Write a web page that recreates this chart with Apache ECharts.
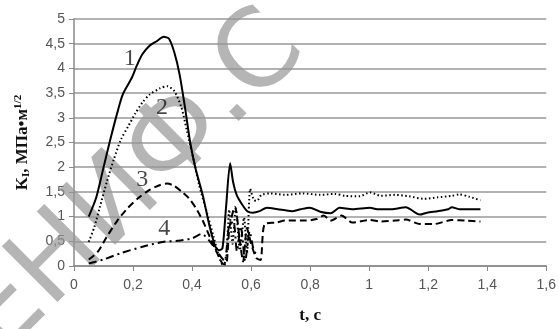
<!DOCTYPE html>
<html>
<head>
<meta charset="utf-8">
<script src="https://cdn.jsdelivr.net/npm/echarts@6/dist/echarts.min.js"></script>
<style>
  html, body { margin: 0; padding: 0; background: #fff; }
  #chart { width: 559px; height: 329px; }
</style>
</head>
<body>
<div id="chart"></div>
<script>
// curve 1 (solid)
const curve1 = [
  [0.05, 1.0], [0.075, 1.38], [0.099, 1.97], [0.123, 2.56], [0.147, 3.11], [0.165, 3.47],
  [0.195, 3.8], [0.213, 4.06], [0.232, 4.29], [0.256, 4.46], [0.28, 4.55], [0.304, 4.64],
  [0.322, 4.6], [0.34, 4.32], [0.358, 3.87], [0.376, 3.21], [0.394, 2.49], [0.412, 1.97],
  [0.436, 1.44], [0.46, 0.79], [0.479, 0.39], [0.491, 0.32], [0.503, 0.36], [0.515, 1.18],
  [0.529, 2.08], [0.539, 1.7], [0.551, 1.44], [0.569, 1.25], [0.587, 1.11], [0.605, 1.08],
  [0.629, 1.11], [0.653, 1.18], [0.69, 1.15], [0.738, 1.11], [0.768, 1.15], [0.798, 1.18],
  [0.834, 1.1], [0.87, 1.07], [0.9, 1.18], [0.943, 1.15], [1.003, 1.18], [1.027, 1.15],
  [1.075, 1.15], [1.124, 1.19], [1.172, 1.04], [1.196, 1.08], [1.232, 1.11], [1.268, 1.15],
  [1.28, 1.19], [1.305, 1.15], [1.377, 1.15]
]
// curve 2 (dotted)
const curve2 = [
  [0.05, 0.49], [0.069, 0.79], [0.087, 1.18], [0.111, 1.7], [0.135, 2.16], [0.159, 2.56],
  [0.183, 2.82], [0.207, 3.08], [0.232, 3.31], [0.256, 3.47], [0.292, 3.6], [0.316, 3.64],
  [0.34, 3.54], [0.364, 3.21], [0.382, 2.75], [0.4, 2.29], [0.424, 1.64], [0.449, 1.11],
  [0.473, 0.59], [0.491, 0.2], [0.503, 0.03], [0.515, 0.1], [0.526, 1.14], [0.537, 0.45],
  [0.548, 1.17], [0.562, 0.32], [0.576, 0.98], [0.586, 0.26], [0.597, 1.56], [0.61, 1.33],
  [0.62, 1.32], [0.635, 1.44], [0.666, 1.47], [0.714, 1.44], [0.774, 1.47], [0.834, 1.44],
  [0.883, 1.46], [0.919, 1.42], [0.967, 1.41], [1.003, 1.49], [1.039, 1.42], [1.088, 1.44],
  [1.136, 1.41], [1.184, 1.36], [1.232, 1.39], [1.28, 1.42], [1.305, 1.45], [1.34, 1.4],
  [1.377, 1.33]
]
// curve 3 (dashed)
const curve3 = [
  [0.05, 0.13], [0.081, 0.29], [0.111, 0.59], [0.147, 0.92], [0.183, 1.18], [0.219, 1.38],
  [0.256, 1.54], [0.292, 1.64], [0.316, 1.67], [0.34, 1.62], [0.364, 1.51], [0.388, 1.38],
  [0.412, 1.18], [0.436, 0.92], [0.46, 0.59], [0.485, 0.26], [0.503, 0.05], [0.515, 0.03],
  [0.527, 0.79], [0.545, 1.2], [0.562, 0.5], [0.573, 0.09], [0.586, 0.77], [0.6, 0.45],
  [0.618, 0.16], [0.632, 0.12], [0.646, 0.85], [0.686, 0.88], [0.714, 0.92], [0.786, 0.92],
  [0.822, 0.95], [0.846, 1.02], [0.87, 0.92], [0.906, 1.02], [0.943, 0.88], [1.003, 0.93],
  [1.039, 0.9], [1.088, 0.92], [1.124, 0.94], [1.172, 0.85], [1.22, 0.85], [1.28, 0.93],
  [1.329, 0.92], [1.377, 0.9]
]
// curve 4 (dash-dot)
const curve4 = [
  [0.05, 0.05], [0.099, 0.13], [0.159, 0.26], [0.232, 0.39], [0.304, 0.49], [0.352, 0.51],
  [0.4, 0.56], [0.432, 0.65], [0.46, 0.5], [0.49, 0.25], [0.51, 0.1], [0.525, 0.8],
  [0.54, 0.9], [0.552, 0.3], [0.565, 0.8], [0.58, 0.1], [0.595, 0.7], [0.61, 0.3], [0.625, 0.2]
]
// curve numbers: [text, t, K]
const curveLabels = [['1', 0.189, 4.19], ['2', 0.298, 3.21], ['3', 0.231, 1.74], ['4', 0.306, 0.75]]

const lineStyles = [
  { type: 'solid', width: 2 },
  { type: [1.5, 2.5], width: 2 },
  { type: [7, 4], width: 2 },
  { type: [8, 4, 2, 4], width: 2 }
]

const fmt = v => String(+v.toFixed(1)).replace('.', ',')

const chart = echarts.init(document.getElementById('chart'))
chart.setOption({
  animation: false,
  grid: { left: 74, right: 12, top: 19, bottom: 56 },
  graphic: [{
    type: 'text',
    z: 1,
    x: -18, y: 338,
    rotation: Math.PI / 4,
    style: {
      text: 'ЕНИФ.С',
      font: '108px "DejaVu Sans"',
      fill: 'rgba(150,150,150,0.7)',
      textAlign: 'left',
      textVerticalAlign: 'middle'
    }
  }],
  xAxis: {
    type: 'value', min: 0, max: 1.6, interval: 0.2,
    name: 't, c', nameLocation: 'middle', nameGap: 41,
    nameTextStyle: { fontFamily: 'Liberation Serif', fontWeight: 'bold', fontSize: 17, color: '#111' },
    axisLine: { show: true, lineStyle: { color: '#888', width: 1.5 } },
    axisTick: { show: true, length: 5, lineStyle: { color: '#888' } },
    axisLabel: { formatter: fmt, fontFamily: 'Liberation Sans', fontSize: 14, color: '#555', margin: 12 },
    splitLine: { show: false }
  },
  yAxis: {
    type: 'value', min: 0, max: 5, interval: 0.5,
    name: '{k|K}{sub|I}{k|, МПа•м}{sup|1/2}', nameLocation: 'middle', nameGap: 42, nameRotate: 90,
    nameTextStyle: {
      rich: {
        k: { fontFamily: 'Liberation Serif', fontWeight: 'bold', fontSize: 17, color: '#111', lineHeight: 19 },
        sub: { fontFamily: 'Liberation Serif', fontWeight: 'bold', fontSize: 11, color: '#111', verticalAlign: 'bottom', lineHeight: 19 },
        sup: { fontFamily: 'Liberation Serif', fontWeight: 'bold', fontSize: 11, color: '#111', verticalAlign: 'top', lineHeight: 19 }
      }
    },
    axisLine: { show: true, lineStyle: { color: '#888', width: 1.5 } },
    axisTick: { show: true, length: 5, lineStyle: { color: '#888' } },
    axisLabel: { formatter: fmt, fontFamily: 'Liberation Sans', fontSize: 14, color: '#555', margin: 9 },
    splitLine: { show: true, lineStyle: { color: '#999', width: 1.5 } }
  },
  series: [curve1, curve2, curve3, curve4].map((data, i) => ({
    type: 'line',
    data,
    smooth: 0.25,
    showSymbol: false,
    z: 3,
    lineStyle: Object.assign({ color: '#000' }, lineStyles[i])
  })).concat([{
    type: 'scatter',
    symbolSize: 0,
    z: 5,
    data: curveLabels.map(([text, t, k]) => ({ value: [t, k], name: text })),
    label: {
      show: true, position: 'inside', formatter: p => p.name,
      fontFamily: 'Liberation Serif', fontSize: 24, color: '#1a1a1a'
    }
  }])
})
</script>
</body>
</html>
